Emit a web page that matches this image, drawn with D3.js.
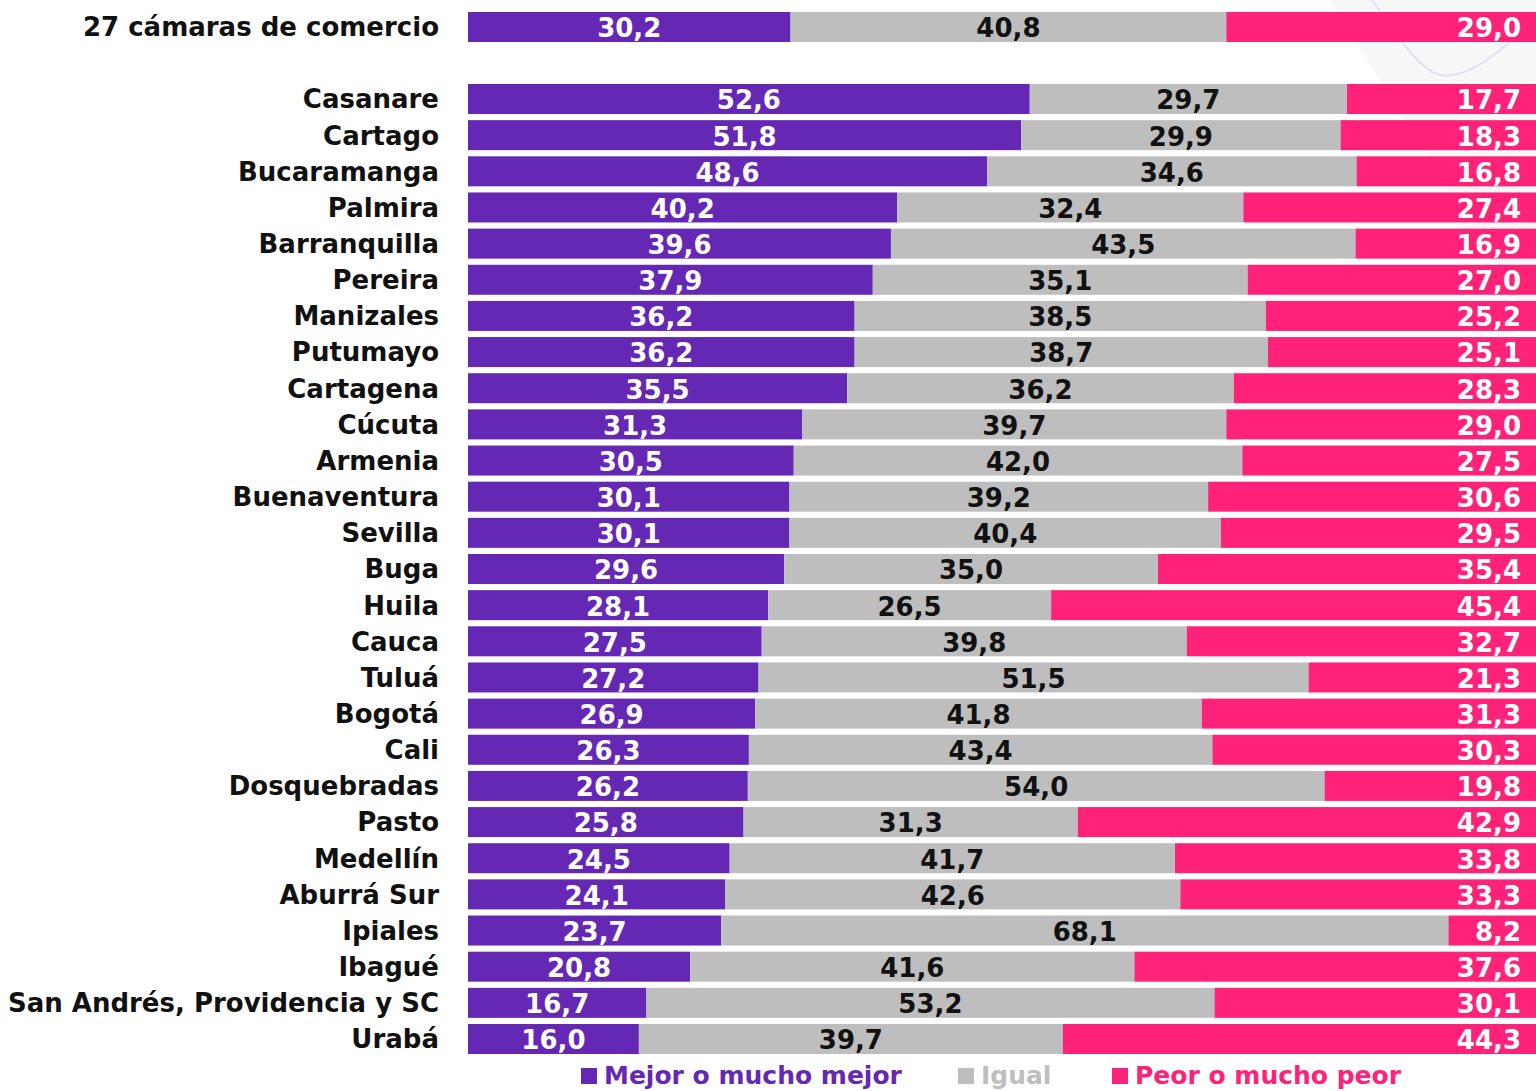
<!DOCTYPE html>
<html>
<head>
<meta charset="utf-8">
<script src="https://cdn.jsdelivr.net/npm/d3@7"></script>
<style>
  body { margin: 0; background: #fff; }
  svg { display: block; font-family: "DejaVu Sans", sans-serif; font-weight: bold; }
</style>
</head>
<body>
<div class="chart"></div>
<script>
/* data */
const totalLabel = "27 cámaras de comercio";
const totalValues = [30.2, 40.8, 29.0];

const cities = ["Casanare", "Cartago", "Bucaramanga", "Palmira", "Barranquilla", "Pereira",
    "Manizales", "Putumayo", "Cartagena", "Cúcuta", "Armenia", "Buenaventura", "Sevilla",
    "Buga", "Huila", "Cauca", "Tuluá", "Bogotá", "Cali", "Dosquebradas", "Pasto", "Medellín",
    "Aburrá Sur", "Ipiales", "Ibagué", "San Andrés, Providencia y SC", "Urabá"];
const mejor = [52.6, 51.8, 48.6, 40.2, 39.6, 37.9, 36.2, 36.2, 35.5, 31.3, 30.5, 30.1, 30.1,
    29.6, 28.1, 27.5, 27.2, 26.9, 26.3, 26.2, 25.8, 24.5, 24.1, 23.7, 20.8, 16.7, 16.0];
const igual = [29.7, 29.9, 34.6, 32.4, 43.5, 35.1, 38.5, 38.7, 36.2, 39.7, 42.0, 39.2, 40.4,
    35.0, 26.5, 39.8, 51.5, 41.8, 43.4, 54.0, 31.3, 41.7, 42.6, 68.1, 41.6, 53.2, 39.7];
const peor = [17.7, 18.3, 16.8, 27.4, 16.9, 27.0, 25.2, 25.1, 28.3, 29.0, 27.5, 30.6, 29.5,
    35.4, 45.4, 32.7, 21.3, 31.3, 30.3, 19.8, 42.9, 33.8, 33.3, 8.2, 37.6, 30.1, 44.3];
const seriesNames = ["Mejor o mucho mejor", "Igual", "Peor o mucho peor"];

const colors = ["#6428b4", "#bebebe", "#ff2278"];
const textColors = ["#fff", "#111", "#fff"];

const width = 1536, height = 1091;
const fmt = v => v.toFixed(1).replace(".", ",");

const svg = d3.select(".chart").append("svg")
    .attr("width", width)
    .attr("height", height);

// faint background shape in the top-right corner
svg.append("path")
    .attr("d", "M1330,0 L1536,0 L1536,330 Z")
    .attr("fill", "#f6f7f7");
svg.append("path")
    .attr("d", "M1372,0 C1400,40 1420,70 1440,75 C1470,80 1500,50 1536,20")
    .attr("fill", "none")
    .attr("stroke", "#e4def0")
    .attr("stroke-width", 2);

const x = d3.scaleLinear().domain([0, 100]).range([468, 1536]);
const y = d3.scaleBand().domain(cities).range([84, 1054]).paddingInner(0.17).paddingOuter(0);

// rows: total on top, then cities
const rows = [{name: totalLabel, vals: totalValues, y0: 12, h: 30}]
    .concat(cities.map((c, i) => ({name: c, vals: [mejor[i], igual[i], peor[i]], y0: y(c), h: y.bandwidth()})));

const row = svg.selectAll("g.row")
    .data(rows)
    .enter()
    .append("g")
    .attr("class", "row")
    .attr("transform", d => `translate(0,${d.y0})`);

row.append("text")
    .attr("x", 439)
    .attr("y", d => d.h / 2)
    .attr("dy", "0.36em")
    .attr("text-anchor", "end")
    .attr("font-size", 26)
    .attr("fill", "#111")
    .text(d => d.name);

row.each(function(d) {
    const g = d3.select(this);
    let acc = 0;
    const segs = d.vals.map((v, k) => {
        const s = {k: k, v: v, x0: x(acc), x1: k === 2 ? x(100) : x(acc + v)};
        acc += v;
        return s;
    });
    g.selectAll("rect")
        .data(segs)
        .enter()
        .append("rect")
        .attr("x", s => s.x0)
        .attr("y", 0)
        .attr("width", s => s.x1 - s.x0)
        .attr("height", d.h)
        .attr("fill", s => colors[s.k]);
    g.selectAll("text.val")
        .data(segs)
        .enter()
        .append("text")
        .attr("class", "val")
        .attr("x", s => s.k === 2 ? s.x1 - 15 : (s.x0 + s.x1) / 2)
        .attr("y", d.h / 2 + 1)
        .attr("dy", "0.36em")
        .attr("text-anchor", s => s.k === 2 ? "end" : "middle")
        .attr("font-size", 26)
        .attr("fill", s => textColors[s.k])
        .text(s => fmt(s.v));
});

// legend
const legendX = [581, 958, 1112];
const legend = svg.selectAll("g.legend")
    .data(seriesNames)
    .enter()
    .append("g")
    .attr("class", "legend")
    .attr("transform", (d, i) => `translate(${legendX[i]},1068)`);

legend.append("rect")
    .attr("width", 16)
    .attr("height", 16)
    .attr("fill", (d, i) => colors[i]);

legend.append("text")
    .attr("x", 23)
    .attr("y", 16)
    .attr("font-size", 25)
    .attr("fill", (d, i) => colors[i])
    .text(d => d);
</script>
</body>
</html>
